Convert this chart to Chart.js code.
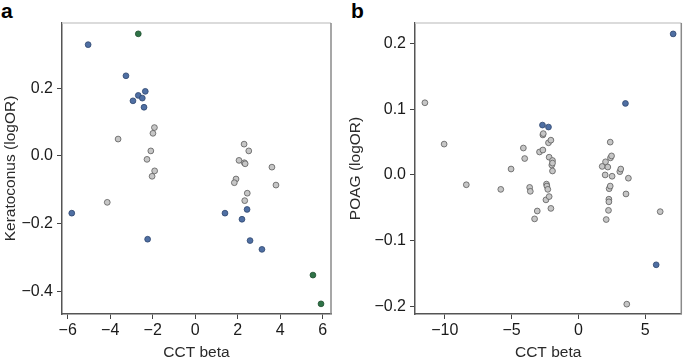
<!DOCTYPE html>
<html>
<head>
<meta charset="utf-8">
<script src="https://cdn.jsdelivr.net/npm/chart.js@4"></script>
<style>
  html, body { margin: 0; padding: 0; background: #fff; }
  body { width: 685px; height: 360px; position: relative; overflow: hidden; font-family: "Liberation Sans", Arial, sans-serif; }
  .panel { position: absolute; top: 0; }
  .lbl { position: absolute; top: -1px; font-weight: bold; font-size: 21px; color: #000; }
</style>
</head>
<body>
<div class="lbl" style="left:1px;">a</div>
<div class="lbl" style="left:351px;">b</div>
<div class="panel" style="left:0px;"><canvas id="ca" width="345" height="360"></canvas></div>
<div class="panel" style="left:345px;"><canvas id="cb" width="340" height="360"></canvas></div>
<script>
// ---- Panel a: Keratoconus ----
const kGrayX  = [-1.92,-1.99,-3.63,-2.09,-2.27,-1.91,-2.03,-4.14, 2.30,2.52,2.06,2.31,2.35,3.61,1.92,1.84,3.80,2.45,2.33];
const kGrayY  = [0.084,0.067,0.050,0.015,-0.010,-0.044,-0.060,-0.137, 0.035,0.015,-0.013,-0.020,-0.023,-0.033,-0.068,-0.079,-0.086,-0.110,-0.132];
const kBlueX  = [-5.04,-3.26,-2.35,-2.68,-2.49,-2.93,-2.41,-5.81,-2.24,2.44,1.40,2.20,2.58,3.14];
const kBlueY  = [0.329,0.237,0.191,0.179,0.171,0.163,0.144,-0.169,-0.246,-0.158,-0.169,-0.187,-0.250,-0.276];
const kGreenX = [-2.68,5.54,5.92];
const kGreenY = [0.361,-0.352,-0.437];
const kXTicks = [-6,-4,-2,0,2,4,6];
const kYTicks = [-0.4,-0.2,0.0,0.2];

// ---- Panel b: POAG ----
const pGrayX = [-11.49,-10.05,-8.39,-5.81,-5.04,-4.12,-4.02,-3.65,-3.60,-3.28,-3.08,-2.91,-2.66,-2.66,-2.63,-2.43,-2.39,-2.36,-2.29,-2.24,-2.19,-2.19,-2.06,-2.06,-1.99,-1.94,-1.94,-1.94,
                1.78,2.00,2.03,2.08,2.20,2.25,2.28,2.28,2.30,2.38,2.38,2.40,2.48,2.52,3.10,3.17,3.56,3.62,3.74,6.12];
const pGrayY = [0.110,0.047,-0.015,-0.022,0.009,0.041,0.025,-0.019,-0.025,-0.067,-0.055,0.035,0.038,0.061,0.063,-0.038,-0.014,-0.017,-0.022,0.049,0.027,-0.033,0.053,-0.051,0.015,0.022,0.018,0.006,
                0.013,0.000,0.020,-0.068,0.012,-0.054,-0.037,-0.041,-0.021,0.050,-0.017,0.026,0.029,-0.002,0.005,0.009,-0.029,-0.197,-0.005,-0.056];
const pBlueX = [7.09,3.52,-2.69,-2.24,5.82];
const pBlueY = [0.215,0.109,0.076,0.073,-0.137];
const pXTicks = [-10,-5,0,5];
const pYTicks = [-0.2,-0.1,0.0,0.1,0.2];

const GRAY  = {bg:'#c6c6c6', bd:'#5c5c5c'};
const BLUE  = {bg:'#4f6fa3', bd:'#2f466f'};
const GREEN = {bg:'#2f7347', bd:'#1e4e2e'};

function pts(xs, ys){ return xs.map((x,i)=>({x:x, y:ys[i]})); }
function ds(xs, ys, c){
  return {data: pts(xs,ys), backgroundColor:c.bg, borderColor:c.bd, borderWidth:0.8, pointRadius:2.9, pointHoverRadius:2.9};
}
function fmtX(v){ const s = String(Math.abs(v)); return v < 0 ? '\u2212' + s : s; }
function fmtY(v){ const s = Math.abs(v).toFixed(1); return v < -1e-9 ? '\u2212' + s : s; }

const boxPlugin = {
  id:'box',
  afterDraw(chart){
    const a = chart.chartArea, ctx = chart.ctx;
    ctx.save();
    ctx.lineWidth = 1.5;
    ctx.strokeStyle = '#cfcfcf';
    ctx.beginPath(); ctx.moveTo(a.left, a.top); ctx.lineTo(a.right, a.top); ctx.stroke();
    ctx.strokeStyle = '#8a8a8a';
    ctx.beginPath(); ctx.moveTo(a.right, a.top); ctx.lineTo(a.right, a.bottom); ctx.stroke();
    ctx.restore();
  }
};

function makeChart(id, datasets, xr, yr, xt, yt, yTitle, yWidth, padRight){
  const fam = '"Liberation Sans", Arial, sans-serif';
  const tickFont = {family:fam, size:16};
  const titleFont = {family:fam, size:15.5};
  return new Chart(document.getElementById(id), {
    type:'scatter',
    data:{datasets: datasets},
    options:{
      responsive:false, animation:false, events:[],
      layout:{padding:{left:0, right:padRight, top:23, bottom:0}},
      plugins:{legend:{display:false}, tooltip:{enabled:false}},
      scales:{
        x:{
          type:'linear', min:xr[0], max:xr[1],
          afterBuildTicks:(s)=>{ s.ticks = xt.map(v=>({value:v})); },
          afterFit:(s)=>{ s.height = 46; },
          grid:{display:true, drawOnChartArea:false, drawTicks:true, tickLength:5, color:'#444', lineWidth:1},
          border:{display:true, color:'#555', width:1.5},
          ticks:{color:'#1a1a1a', font:tickFont, padding:2, maxRotation:0, autoSkip:false, callback:(v)=>fmtX(v)},
          title:{display:true, text:'CCT beta', color:'#2a2a2a', font:titleFont, padding:{top:0,bottom:-2}}
        },
        y:{
          type:'linear', min:yr[0], max:yr[1],
          afterBuildTicks:(s)=>{ s.ticks = yt.map(v=>({value:v})); },
          afterFit:(s)=>{ s.width = yWidth; },
          grid:{display:true, drawOnChartArea:false, drawTicks:true, tickLength:5, color:'#444', lineWidth:1},
          border:{display:true, color:'#555', width:1.5},
          ticks:{color:'#1a1a1a', font:tickFont, padding:4, autoSkip:false, callback:(v)=>fmtY(v)},
          title:{display:true, text:yTitle, color:'#2a2a2a', font:titleFont, padding:{top:1,bottom:0}}
        }
      }
    },
    plugins:[boxPlugin]
  });
}

makeChart('ca',
  [ds(kGrayX,kGrayY,GRAY), ds(kBlueX,kBlueY,BLUE), ds(kGreenX,kGreenY,GREEN)],
  [-6.27,6.39], [-0.467,0.393], kXTicks, kYTicks, 'Keratoconus (logOR)', 62, 14);

makeChart('cb',
  [ds(pGrayX,pGrayY,GRAY), ds(pBlueX,pBlueY,BLUE)],
  [-12.23,7.7], [-0.212,0.2316], pXTicks, pYTicks, 'POAG (logOR)', 70, 1.5);
</script>
</body>
</html>
